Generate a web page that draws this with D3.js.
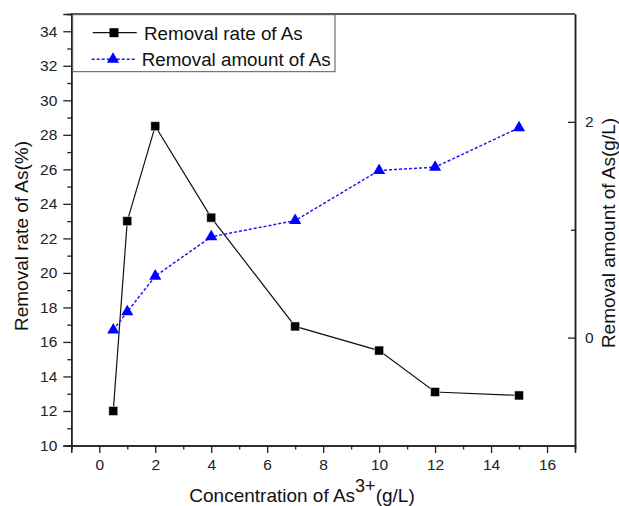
<!DOCTYPE html>
<html><head><meta charset="utf-8">
<script src="https://cdn.jsdelivr.net/npm/d3@7"></script>
<style>body{margin:0;background:#fff}svg{display:block;font-family:"Liberation Sans",Arial,sans-serif}</style>
</head><body><svg id="c" width="619" height="506"></svg>
<script>
const conc = [0.5, 1, 2, 4, 7, 10, 12, 15];
const removalRate = [12.0, 23.0, 28.5, 23.2, 16.9, 15.5, 13.1, 12.9];
const removalAmount = [0.07, 0.24, 0.57, 0.935, 1.085, 1.55, 1.58, 1.945];
const xTicks = [0, 2, 4, 6, 8, 10, 12, 14, 16];
const yLeftTicks = [10, 12, 14, 16, 18, 20, 22, 24, 26, 28, 30, 32, 34];
const yRightTicks = [0, 2];
const seriesNames = ["Removal rate of As", "Removal amount of As"];

const svg = d3.select("#c");
const L = 71.3, R = 575, T = 14, B = 445.5;
const x = d3.scaleLinear().domain([-1, 17]).range([L, R]);
const yL = d3.scaleLinear().domain([10, 35]).range([B, T]);
const yR = d3.scaleLinear().domain([-1, 3]).range([B, T]);
const axisColor = "#222";

// bottom axis
svg.append("g").attr("transform", `translate(0,${B})`)
  .call(d3.axisBottom(x).tickValues(xTicks).tickSize(7.5).tickPadding(6).tickFormat(d3.format("d")));
svg.append("g").attr("transform", `translate(0,${B})`)
  .call(d3.axisBottom(x).tickValues(d3.range(-1, 18, 2)).tickSize(4).tickFormat(""));
// left axis
svg.append("g").attr("transform", `translate(${L},0)`)
  .call(d3.axisLeft(yL).tickValues(yLeftTicks).tickSize(8).tickPadding(6).tickFormat(d3.format("d")));
svg.append("g").attr("transform", `translate(${L},0)`)
  .call(d3.axisLeft(yL).tickValues(d3.range(11, 36, 2)).tickSize(4).tickFormat(""));
// right axis (ticks inward)
svg.append("g").attr("transform", `translate(${R},0)`)
  .call(d3.axisRight(yR).tickValues(yRightTicks).tickSizeInner(-7).tickSizeOuter(0).tickPadding(10).tickFormat(d3.format("d")));
svg.append("g").attr("transform", `translate(${R},0)`)
  .call(d3.axisRight(yR).tickValues([1]).tickSizeInner(-4).tickSizeOuter(0).tickFormat(""));
// top line
svg.append("line").attr("x1", L).attr("x2", R).attr("y1", T).attr("y2", T)
  .attr("stroke", axisColor).attr("stroke-width", 1.5);

svg.selectAll(".domain").attr("stroke", axisColor).attr("stroke-width", 1.5);
svg.selectAll(".tick line").attr("stroke", axisColor).attr("stroke-width", 1.3);
svg.selectAll(".tick text").attr("font-size", 15.5).attr("fill", "#222")
  .attr("font-family", "Liberation Sans, Arial, sans-serif");

// series 1
const line1 = d3.line().x((d, i) => x(conc[i])).y(d => yL(d));
svg.append("path").datum(removalRate).attr("d", line1)
  .attr("fill", "none").attr("stroke", "#111").attr("stroke-width", 1.2);
// series 2
const line2 = d3.line().x((d, i) => x(conc[i])).y(d => yR(d));
svg.append("path").datum(removalAmount).attr("d", line2)
  .attr("fill", "none").attr("stroke", "#1a1aff").attr("stroke-width", 1.5)
  .attr("stroke-dasharray", "3,2");

const sq = d3.symbol().type(d3.symbolSquare).size(81);
const tri = d3.symbol().type(d3.symbolTriangle).size(64);
svg.selectAll(".sq").data(removalRate).enter().append("path")
  .attr("d", sq).attr("transform", (d, i) => `translate(${x(conc[i])},${yL(d)})`)
  .attr("fill", "#000").attr("stroke", "#fff").attr("stroke-width", 0.5);
svg.selectAll(".tri").data(removalAmount).enter().append("path")
  .attr("d", tri).attr("transform", (d, i) => `translate(${x(conc[i])},${yR(d)})`)
  .attr("fill", "#0000ff");

// legend
const lg = svg.append("g");
lg.append("rect").attr("x", 72.7).attr("y", 14.7).attr("width", 262.3).attr("height", 57)
  .attr("fill", "#fff").attr("stroke", "#555").attr("stroke-width", 1);
lg.append("line").attr("x1", 92.7).attr("x2", 136.7).attr("y1", 32.7).attr("y2", 32.7)
  .attr("stroke", "#111").attr("stroke-width", 1.2);
lg.append("path").attr("d", sq).attr("transform", "translate(114,32.7)").attr("fill", "#000");
lg.append("text").attr("x", 144).attr("y", 39.5).attr("font-size", 18.8).attr("fill", "#111").text(seriesNames[0]);
lg.append("line").attr("x1", 91.7).attr("x2", 136.7).attr("y1", 59.3).attr("y2", 59.3)
  .attr("stroke", "#1a1aff").attr("stroke-width", 1.5).attr("stroke-dasharray", "3,2");
lg.append("path").attr("d", tri).attr("transform", "translate(113,59.3)").attr("fill", "#0000ff");
lg.append("text").attr("x", 141.7).attr("y", 66.2).attr("font-size", 18.8).attr("fill", "#111").text(seriesNames[1]);

// axis titles
const xt = svg.append("text").attr("x", 302).attr("y", 502).attr("text-anchor", "middle")
  .attr("font-size", 19).attr("fill", "#111");
xt.append("tspan").text("Concentration of As");
xt.append("tspan").attr("dy", -10).attr("font-size", 18).text("3+");
xt.append("tspan").attr("dy", 10).text("(g/L)");

svg.append("text").attr("transform", "translate(28,236) rotate(-90)").attr("text-anchor", "middle")
  .attr("font-size", 19).attr("fill", "#111").text("Removal rate of As(%)");
svg.append("text").attr("transform", "translate(615,233) rotate(-90)").attr("text-anchor", "middle")
  .attr("font-size", 19).attr("fill", "#111").text("Removal amount of As(g/L)");
</script></body></html>
